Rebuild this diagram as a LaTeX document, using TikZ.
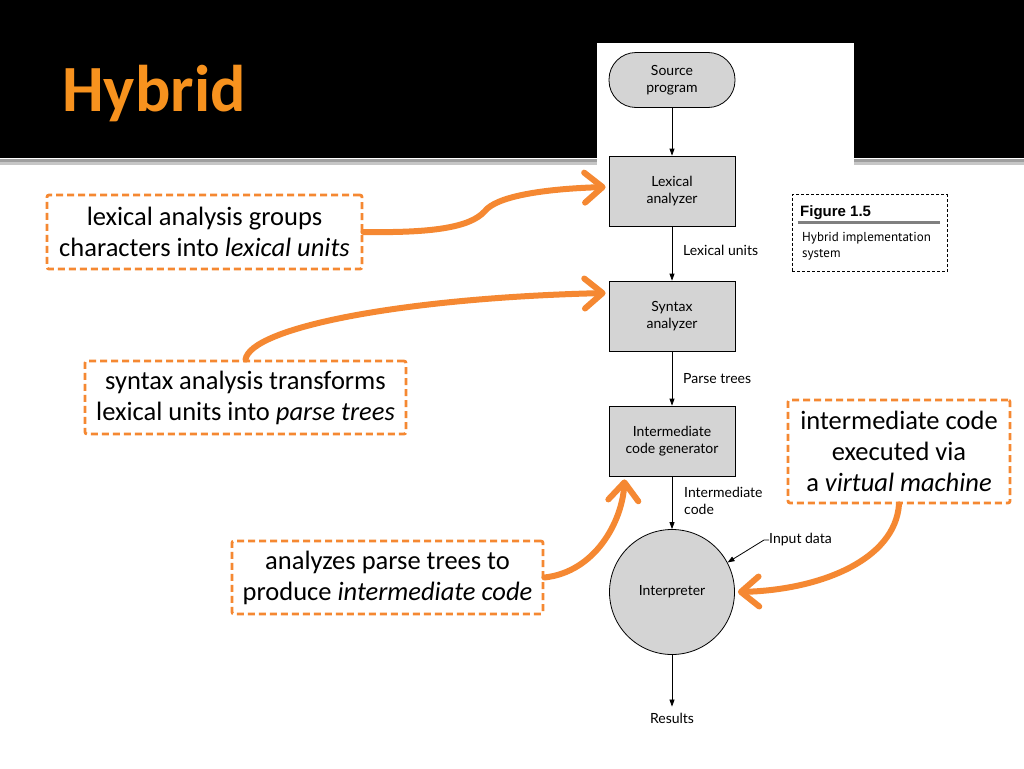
\documentclass[tikz,border=0pt]{standalone}
\usepackage{fontspec}
\setmainfont{Carlito}
\newfontfamily\figfont{Lato}
\newfontfamily\capfont{PT Sans}
\newfontfamily\capboldfont{Liberation Sans}
\usetikzlibrary{arrows.meta}
\definecolor{orng}{RGB}{245,136,50}
\definecolor{ttl}{RGB}{247,146,30}
\definecolor{boxgray}{RGB}{212,212,212}
\begin{document}
\begin{tikzpicture}[x=1pt,y=-1pt,
  fig/.style={font=\figfont\fontsize{14}{16.5}\selectfont, align=center},
  proc/.style={fig, draw=black, line width=0.8pt, fill=boxgray, minimum width=126pt, minimum height=70pt, inner sep=0pt},
  flow/.style={-{Triangle[length=7pt,width=5pt]}, line width=0.8pt},
  lbl/.style={fig, align=left, anchor=west, inner sep=0pt},
  callout/.style={draw=orng, line width=2.8pt, dash pattern=on 7pt off 4pt, rounded corners=2pt, fill=white, align=center, font=\fontsize{26.5}{31}\selectfont, inner sep=0pt},
  pointer/.style={draw=orng, line width=6pt, line cap=round, -{Straight Barb[length=18pt,width=30pt,round]}}
]
\useasboundingbox (0,0) rectangle (1024,768);
\fill[white] (0,0) rectangle (1024,768);
\fill[black] (0,0) rectangle (1024,158);
\fill[gray!75] (0,159) rectangle (1024,162);
\fill[gray!45] (0,162) rectangle (1024,165);
\fill[white] (597,43) rectangle (854,768);

\node[anchor=base west, text=ttl, font=\bfseries\fontsize{66}{66}\selectfont, inner sep=0pt] (title) at (62,111) {Hybrid};

% flowchart
\node[proc, rounded corners=27pt, minimum height=55pt] (src) at (672,80) {Source\\program};
\node[proc] (lex) at (672,191) {Lexical\\analyzer};
\node[proc] (syn) at (672,316) {Syntax\\analyzer};
\node[proc] (icg) at (672,441) {Intermediate\\code generator};
\node[fig, circle, draw=black, line width=0.8pt, fill=boxgray, minimum size=125pt, inner sep=0pt] (int) at (672,592) {Interpreter};
\node[fig, inner sep=0pt] (res) at (672,718) {Results};

\draw[flow] (src) -- (lex);
\draw[flow] (lex) -- (syn);
\draw[flow] (syn) -- (icg);
\draw[flow] (icg) -- (int);
\draw[flow, shorten >=6pt] (int) -- (res);

\node[lbl] (lu) at (683,250) {Lexical units};
\node[lbl] (pt) at (683,379) {Parse trees};
\node[lbl] (ic) at (684,501) {Intermediate\\code};
\node[lbl] (id) at (769,540) {Input data};
\draw[flow] (id.west) -- ++(-5,0) -- (int.28);

% caption
\node[draw=black, line width=0.8pt, dash pattern=on 3pt off 2pt, minimum width=155pt, minimum height=77pt, inner sep=0pt] (capbox) at (869.5,233) {};
\node[anchor=base west, font=\capboldfont\bfseries\fontsize{15}{16}\selectfont, inner sep=0pt] (fignum) at (800,216) {Figure 1.5};
\draw[line width=3pt, gray] ([xshift=6pt,yshift=-28pt]capbox.north west) -- ([xshift=-7pt,yshift=-28pt]capbox.north east);
\node[anchor=west, align=left, font=\capfont\fontsize{13}{16}\selectfont, inner sep=0pt] (captxt) at (802,246) {Hybrid implementation\\system};

% callouts
\node[callout, minimum width=315pt, minimum height=74pt] (c1) at (204.5,232) {lexical analysis groups\\characters into \textit{lexical units}};
\node[callout, minimum width=321pt, minimum height=73pt] (c2) at (245.5,397.5) {syntax analysis transforms\\lexical units into \textit{parse trees}};
\node[callout, minimum width=311pt, minimum height=73pt] (c3) at (387.5,577.5) {analyzes parse trees to\\produce \textit{intermediate code}};
\node[callout, minimum width=222pt, minimum height=103pt] (c4) at (899,451.5) {intermediate code\\executed via\\a \textit{virtual machine}};

\draw[pointer] (c1.east) .. controls (430,233) and (470,228) .. (485,211) .. controls (496,197) and (540,189) .. ([xshift=-3pt,yshift=4pt]lex.west);
\draw[pointer] (c2.north) .. controls (250,328) and (400,298) .. ([xshift=-3pt,yshift=23pt]syn.west);
\draw[pointer] (c3.east) .. controls (595,572) and (622,522) .. ([xshift=16pt,yshift=-3pt]icg.south west);
\draw[pointer] (c4.south) .. controls (895,560) and (820,590) .. ([xshift=3pt]int.east);
\end{tikzpicture}
\end{document}
